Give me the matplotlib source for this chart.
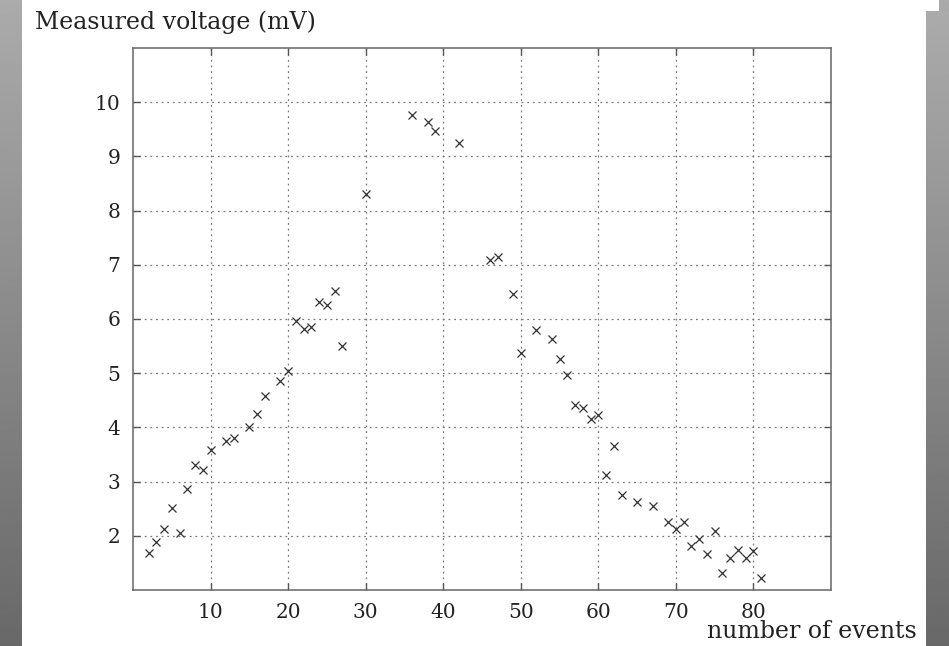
import numpy as np
import matplotlib
matplotlib.use("Agg")
import matplotlib.pyplot as plt

# Data
events = [2, 3, 4, 5, 6, 7, 8, 9, 10, 12, 13, 15, 16, 17, 19, 20,
          21, 22, 23, 24, 25, 26, 27, 30, 36, 38, 39, 42, 46, 47,
          49, 50, 52, 54, 55, 56, 57, 58, 59, 60, 61, 62, 63, 65,
          67, 69, 70, 71, 72, 73, 74, 75, 76, 77, 78, 79, 80, 81]
voltage = [1.68, 1.89, 2.12, 2.51, 2.05, 2.87, 3.31, 3.21, 3.59, 3.75, 3.81, 4.0, 4.25, 4.58, 4.86, 5.04,
           5.97, 5.81, 5.86, 6.32, 6.25, 6.52, 5.5, 8.31, 9.76, 9.63, 9.46, 9.25, 7.09, 7.14,
           6.46, 5.38, 5.8, 5.63, 5.26, 4.96, 4.41, 4.36, 4.16, 4.22, 3.13, 3.65, 2.76, 2.62,
           2.55, 2.26, 2.13, 2.26, 1.81, 1.94, 1.66, 2.09, 1.31, 1.59, 1.73, 1.59, 1.72, 1.23]
x_ticks = [10, 20, 30, 40, 50, 60, 70, 80]
y_ticks = [2, 3, 4, 5, 6, 7, 8, 9, 10]
y_label = "Measured voltage (mV)"
x_label = "number of events"

W, H = 949, 646
fig = plt.figure(figsize=(W / 100, H / 100), dpi=100)
fig.patch.set_facecolor("white")

# background decorations (gray gradient strips at the edges)
bg = fig.add_axes([0, 0, 1, 1], zorder=-10)
bg.axis("off")
grad = np.linspace(0.67, 0.41, 256).reshape(-1, 1)
bg.imshow(grad, cmap="gray", vmin=0, vmax=1, extent=[0, 22, H, 0], aspect="auto")
bg.imshow(grad, cmap="gray", vmin=0, vmax=1, extent=[926, W, H, 11], aspect="auto")
bg.imshow(grad[:8], cmap="gray", vmin=0, vmax=1, extent=[939, W, 11, 0], aspect="auto")
bg.set_xlim(0, W)
bg.set_ylim(H, 0)

left, right, top, bottom = 133, 831, 48, 590
ax = fig.add_axes([left / W, 1 - bottom / H, (right - left) / W, (bottom - top) / H])
ax.set_facecolor("white")
ax.plot(events, voltage, linestyle="none", marker="x", markersize=5.5,
        markeredgewidth=0.9, color="#333333", zorder=3)
ax.set_xlim(0, 90)
ax.set_ylim(1, 11)
ax.set_xticks(x_ticks)
ax.set_yticks(y_ticks)
ax.grid(True, linestyle=(0, (1.5, 3)), color="#7a7a7a", linewidth=0.9)
for s in ax.spines.values():
    s.set_color("#666666")
    s.set_linewidth(1.1)
ax.tick_params(direction="in", length=5, width=1, color="#555555",
               top=True, right=True, labelsize=14.5, pad=9)
for lab in ax.get_xticklabels() + ax.get_yticklabels():
    lab.set_family("DejaVu Serif")
    lab.set_color("#222222")

fig.text(35 / W, 1 - 22 / H, y_label, family="DejaVu Serif", fontsize=17,
         color="#222222", ha="left", va="center")
fig.text(917 / W, 1 - 632 / H, x_label, family="DejaVu Serif", fontsize=17,
         color="#222222", ha="right", va="center")

fig.savefig("out.png", dpi=100)
